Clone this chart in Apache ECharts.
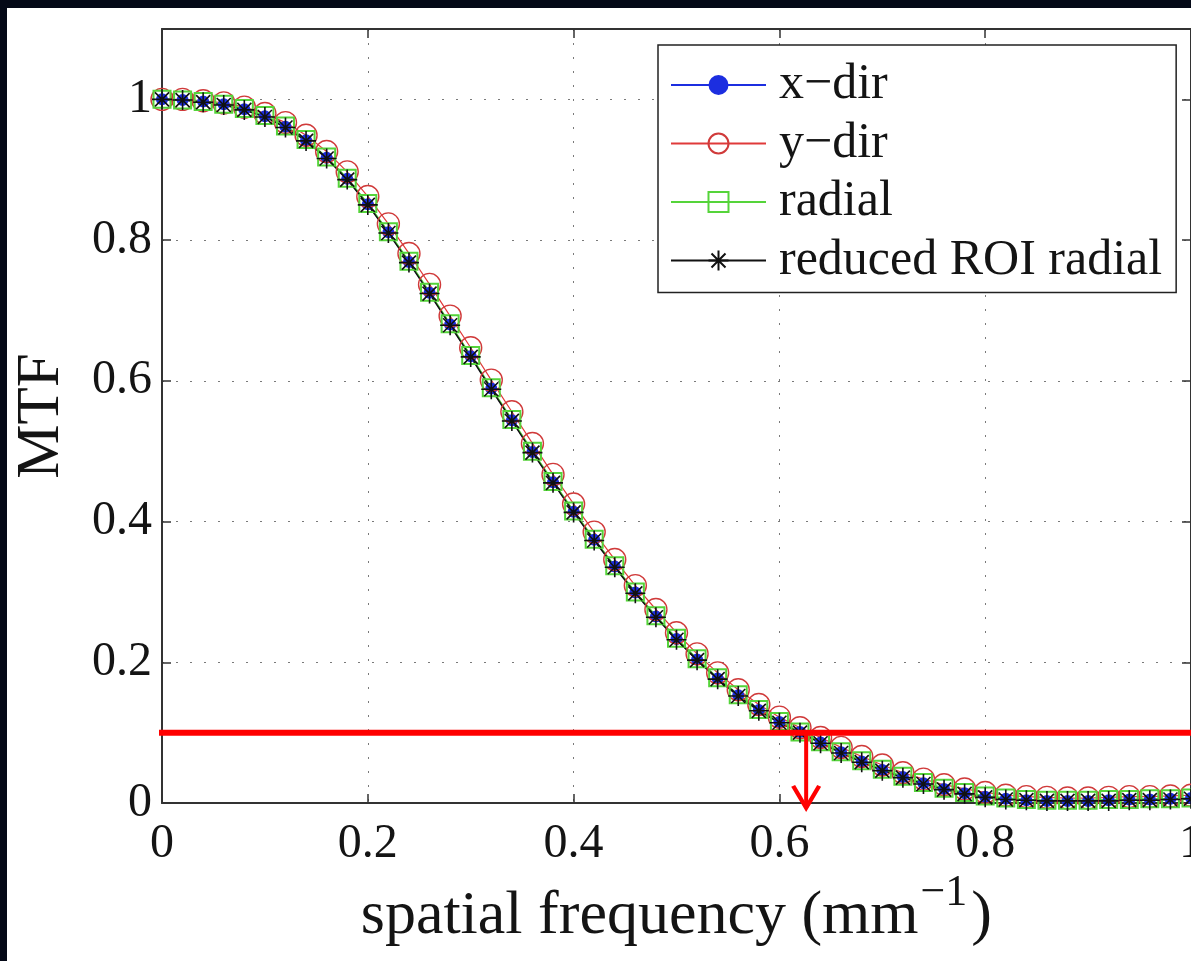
<!DOCTYPE html>
<html>
<head>
<meta charset="utf-8">
<script src="https://cdn.jsdelivr.net/npm/echarts@6/dist/echarts.min.js"></script>
<style>
  html, body { margin: 0; padding: 0; background: #040917; width: 1191px; height: 961px; overflow: hidden; }
  #panel { position: absolute; left: 7px; top: 8px; right: 0; bottom: 0; background: #ffffff; }
  #chart { position: absolute; left: 0; top: 0; width: 1191px; height: 961px; }
</style>
</head>
<body>
<div id="panel"></div>
<div id="chart"></div>
<script>
// ---- data ----
const freq = [0.00,0.02,0.04,0.06,0.08,0.10,0.12,0.14,0.16,0.18,
              0.20,0.22,0.24,0.26,0.28,0.30,0.32,0.34,0.36,0.38,
              0.40,0.42,0.44,0.46,0.48,0.50,0.52,0.54,0.56,0.58,
              0.60,0.62,0.64,0.66,0.68,0.70,0.72,0.74,0.76,0.78,
              0.80,0.82,0.84,0.86,0.88,0.90,0.92,0.94,0.96,0.98,1.00];
const xDir = [1.000,0.999,0.997,0.993,0.986,0.976,0.961,0.942,0.917,0.887,
              0.851,0.811,0.769,0.725,0.680,0.635,0.589,0.544,0.499,0.456,
              0.414,0.374,0.336,0.299,0.265,0.233,0.204,0.177,0.153,0.132,
              0.115,0.101,0.086,0.072,0.059,0.047,0.037,0.028,0.020,0.014,
              0.009,0.006,0.004,0.003,0.003,0.003,0.004,0.005,0.005,0.006,0.007];
const yDir = [1.000,1.000,0.998,0.995,0.989,0.980,0.967,0.949,0.926,0.897,
              0.862,0.823,0.781,0.737,0.692,0.647,0.601,0.556,0.511,0.467,
              0.425,0.385,0.346,0.309,0.275,0.242,0.212,0.185,0.161,0.140,
              0.122,0.107,0.093,0.079,0.066,0.054,0.043,0.034,0.026,0.020,
              0.015,0.011,0.009,0.008,0.007,0.007,0.008,0.009,0.009,0.010,0.011];
const radial = [1.000,0.999,0.997,0.993,0.987,0.977,0.962,0.943,0.918,0.888,
                0.852,0.812,0.770,0.726,0.681,0.636,0.590,0.545,0.500,0.457,
                0.415,0.375,0.337,0.300,0.266,0.234,0.205,0.178,0.154,0.133,
                0.116,0.101,0.087,0.073,0.060,0.048,0.038,0.029,0.021,0.015,
                0.010,0.007,0.005,0.004,0.004,0.004,0.005,0.005,0.006,0.006,0.007];
const roiRadial = [1.000,0.999,0.996,0.992,0.985,0.975,0.960,0.941,0.916,0.886,
                   0.850,0.810,0.768,0.724,0.679,0.634,0.588,0.543,0.498,0.455,
                   0.413,0.373,0.335,0.298,0.264,0.232,0.203,0.176,0.152,0.131,
                   0.114,0.100,0.085,0.071,0.058,0.046,0.036,0.027,0.019,0.013,
                   0.008,0.005,0.004,0.003,0.003,0.003,0.003,0.004,0.004,0.005,0.006];
const seriesNames = ['x\u2212dir', 'y\u2212dir', 'radial', 'reduced ROI radial'];
const xTicks = [0, 0.2, 0.4, 0.6, 0.8, 1];
const yTicks = [0, 0.2, 0.4, 0.6, 0.8, 1];
// annotation: MTF threshold line and the frequency where the curve crosses it
const thresholdMTF = 0.1;
const thresholdFrom = -0.004;
const thresholdTo = 1.0;
const cutoffFreq = 0.626;
const arrowTipMTF = -0.007;

// ---- chart ----
const FONT = '"Liberation Serif", "Times New Roman", serif';
const TXT = '#141414';
const pairs = arr => freq.map((f, i) => [f, arr[i]]);
const star = 'path://M10 0L10 20M0 10L20 10M3 3L17 17M3 17L17 3';
const chevron = 'path://M0 0L10 12L20 0';

const chart = echarts.init(document.getElementById('chart'), null, { renderer: 'canvas' });

const gridLine = { show: true, lineStyle: { color: '#7a7a7a', width: 1, type: [2, 12] } };
const axisLine = { show: true, onZero: false, lineStyle: { color: '#333', width: 2 } };
const tick = { show: true, inside: true, length: 9, lineStyle: { color: '#333', width: 1.5 } };

chart.setOption({
  animation: false,
  backgroundColor: 'transparent',
  grid: { left: 162, right: 0, top: 29, bottom: 158, containLabel: false, outerBoundsMode: 'none' },
  legend: {
    data: seriesNames,
    orient: 'vertical',
    left: 658, top: 45,
    padding: [15, 14, 7, 12],
    itemWidth: 95, itemHeight: 25, itemGap: 8.5,
    backgroundColor: '#ffffff',
    borderColor: '#222', borderWidth: 1.5,
    textStyle: { fontFamily: FONT, fontSize: 50, lineHeight: 48, color: TXT, padding: [0, 0, 0, 8] }
  },
  xAxis: [
    {
      type: 'value', position: 'bottom', min: 0, max: 1, interval: 0.2,
      axisLine: axisLine, axisTick: tick,
      axisLabel: {
        fontFamily: FONT, fontSize: 48, color: TXT, margin: 17,
        formatter: v => xTicks.some(t => Math.abs(t - v) < 1e-6) ? String(+v.toFixed(1)) : ''
      },
      splitLine: gridLine,
      name: '{b|spatial frequency (mm}{sup|\u22121}{b|)}{h| }',
      nameLocation: 'middle', nameGap: 68, nameMoveOverlap: false,
      nameTextStyle: {
        fontFamily: FONT, fontSize: 62, color: TXT,
        rich: {
          b: { fontFamily: FONT, fontSize: 62, color: TXT, lineHeight: 62, verticalAlign: 'bottom' },
          sup: { fontFamily: FONT, fontSize: 44, color: TXT, lineHeight: 44, verticalAlign: 'top', padding: [0, 4, 0, 2] },
          h: { fontFamily: FONT, fontSize: 1, lineHeight: 77, verticalAlign: 'top' }
        }
      }
    },
    {
      type: 'value', position: 'top', min: 0, max: 1, interval: 0.2,
      axisLine: axisLine, axisTick: tick,
      axisLabel: { show: false }, splitLine: { show: false }
    }
  ],
  yAxis: [
    {
      type: 'value', position: 'left', min: 0, max: 1.1, interval: 0.2,
      axisLine: axisLine, axisTick: tick,
      axisLabel: {
        fontFamily: FONT, fontSize: 48, color: TXT, margin: 10,
        formatter: v => yTicks.some(t => Math.abs(t - v) < 1e-6) ? String(+v.toFixed(1)) : ''
      },
      splitLine: gridLine,
      name: 'MTF', nameLocation: 'middle', nameGap: 90, nameRotate: 90, nameMoveOverlap: false,
      nameTextStyle: { fontFamily: FONT, fontSize: 61, color: TXT }
    },
    {
      type: 'value', position: 'right', min: 0, max: 1.1, interval: 0.2,
      axisLine: axisLine, axisTick: tick,
      axisLabel: { show: false }, splitLine: { show: false }
    }
  ],
  series: [
    {
      name: seriesNames[0], type: 'line', data: pairs(xDir),
      symbol: 'circle', symbolSize: 12,
      itemStyle: { color: '#1c2ee0' },
      lineStyle: { color: '#1c2ee0', width: 1.2 }
    },
    {
      name: seriesNames[1], type: 'line', data: pairs(yDir),
      symbol: 'circle', symbolSize: 22,
      itemStyle: { color: 'rgba(0,0,0,0)', borderColor: '#d03a3a', borderWidth: 1.4 },
      lineStyle: { color: '#e03a3a', width: 1.2 }
    },
    {
      name: seriesNames[2], type: 'line', data: pairs(radial),
      symbol: 'rect', symbolSize: 17,
      itemStyle: { color: 'rgba(0,0,0,0)', borderColor: '#55d43a', borderWidth: 2 },
      lineStyle: { color: '#55d43a', width: 1.5 }
    },
    {
      name: seriesNames[3], type: 'line', data: pairs(roiRadial),
      symbol: star, symbolSize: 20,
      itemStyle: { color: 'rgba(0,0,0,0)', borderColor: '#111', borderWidth: 1.6 },
      lineStyle: { color: '#111', width: 1.5 }
    },
    {
      name: 'threshold', type: 'line', clip: false, silent: true,
      data: [[thresholdFrom, thresholdMTF], [thresholdTo, thresholdMTF]],
      symbol: 'none',
      lineStyle: { color: '#ff0000', width: 6 },
      z: 10
    },
    {
      name: 'cutoff', type: 'line', clip: false, silent: true,
      data: [
        { value: [cutoffFreq, thresholdMTF], symbol: 'none' },
        { value: [cutoffFreq, arrowTipMTF], symbol: chevron, symbolSize: [26, 22], symbolOffset: [0, -11] }
      ],
      itemStyle: { color: 'rgba(0,0,0,0)', borderColor: '#ff0000', borderWidth: 4 },
      lineStyle: { color: '#ff0000', width: 4 },
      z: 10
    }
  ]
});
</script>
</body>
</html>
